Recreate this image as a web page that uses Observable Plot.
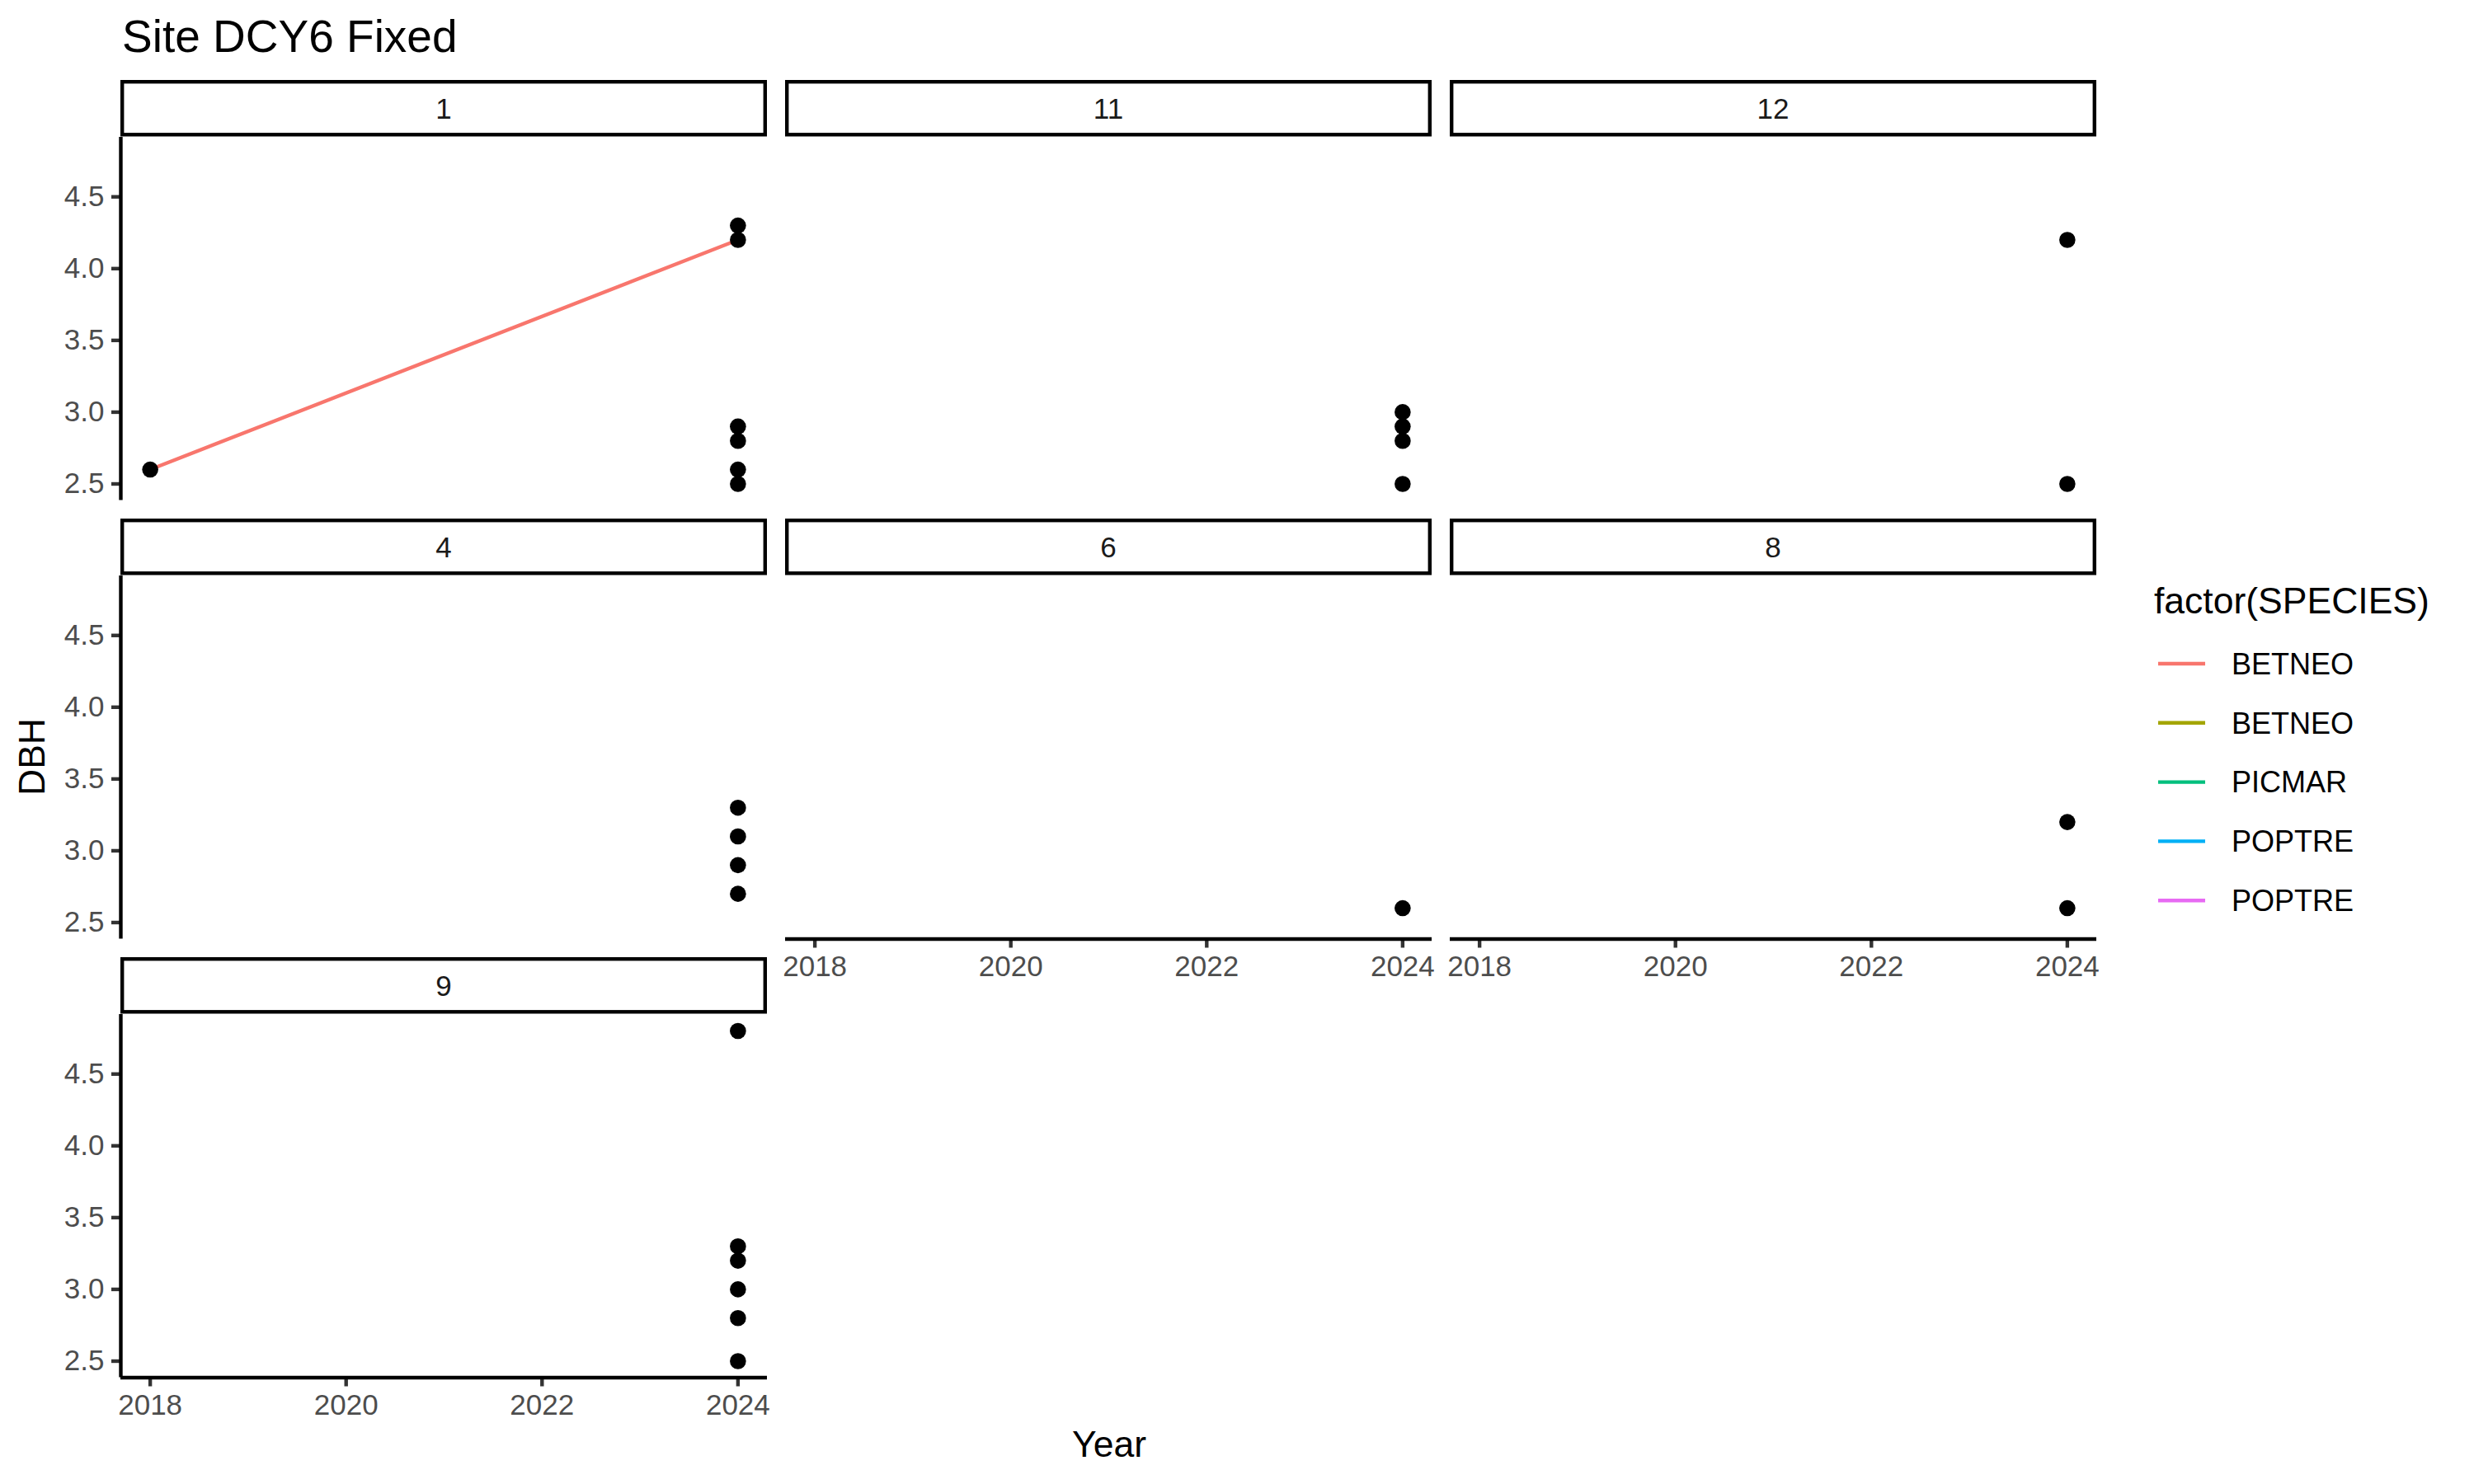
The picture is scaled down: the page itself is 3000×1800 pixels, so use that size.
<!DOCTYPE html>
<html>
<head>
<meta charset="utf-8">
<script src="https://cdn.jsdelivr.net/npm/d3@7"></script>
<script src="https://cdn.jsdelivr.net/npm/@observablehq/plot@0.6"></script>
<style>
  html, body { margin: 0; padding: 0; background: #ffffff; }
  #chart { position: relative; width: 3000px; height: 1800px; background: #ffffff; overflow: hidden;
           font-family: "Liberation Sans", Arial, sans-serif; }
  #chart svg.panel { position: absolute; max-width: none; }
  #overlay { position: absolute; left: 0; top: 0; pointer-events: none; }
</style>
</head>
<body>
<div id="chart"></div>
<script>
// ---------------- data ----------------
const chartTitle = "Site DCY6 Fixed";
const xTitle = "Year";
const yTitle = "DBH";
const legendTitle = "factor(SPECIES)";

const panels = ["1", "11", "12", "4", "6", "8", "9"];

const ptPanel = ["1","1","1","1","1","1","1",
                 "11","11","11","11",
                 "12","12",
                 "4","4","4","4",
                 "6",
                 "8","8",
                 "9","9","9","9","9","9"];
const ptYear  = [2018,2024,2024,2024,2024,2024,2024,
                 2024,2024,2024,2024,
                 2024,2024,
                 2024,2024,2024,2024,
                 2024,
                 2024,2024,
                 2024,2024,2024,2024,2024,2024];
const ptDBH   = [2.6,4.3,4.2,2.9,2.8,2.6,2.5,
                 3.0,2.9,2.8,2.5,
                 4.2,2.5,
                 3.3,3.1,2.9,2.7,
                 2.6,
                 3.2,2.6,
                 4.8,3.3,3.2,3.0,2.8,2.5];

const lnPanel   = ["1", "1"];
const lnYear    = [2018, 2024];
const lnDBH     = [2.6, 4.2];
const lnSpecies = ["BETNEO", "BETNEO"];

const speciesKeys   = ["BETNEO", "BETNEO ", "PICMAR", "POPTRE", "POPTRE "];
const speciesColors = ["#F8766D", "#A3A500", "#00BF7D", "#00B0F6", "#E76BF3"];

const xTicks = [2018, 2020, 2022, 2024];
const yTicks = [2.5, 3.0, 3.5, 4.0, 4.5];

// ---------------- tables ----------------
const points = ptPanel.map((p, i) => ({panel: p, year: ptYear[i], dbh: ptDBH[i]}));
const lines = lnPanel.map((p, i) => ({panel: p, year: lnYear[i], dbh: lnDBH[i], species: lnSpecies[i]}));

// ggplot-like 5% expansion
function expand(ext) { const d = (ext[1] - ext[0]) * 0.05; return [ext[0] - d, ext[1] + d]; }
const xDomain = expand(d3.extent(ptYear.concat(lnYear)));
const yDomain = expand(d3.extent(ptDBH.concat(lnDBH)));

// ---------------- layout ----------------
const FONT = "'Liberation Sans', Arial, sans-serif";
const colLeft = [146, 952, 1758];
const rowTop = [165.5, 697.5, 1229.5];
const panelW = 784, panelH = 440.5;
const stripH = 68.5;
const LW = 4.4;
const ML = 160, MR = 40, MT = 20, MB = 100;
const ncol = 3;

const chart = document.getElementById("chart");

panels.forEach((p, i) => {
  const r = Math.floor(i / ncol), c = i % ncol;
  const showY = c === 0;
  const showX = (i + ncol) >= panels.length; // nothing below
  const marks = [];
  if (showY) {
    marks.push(Plot.axisY(yTicks, {tickSize: 11, tickPadding: 9, fontSize: 35,
      tickFormat: d3.format(".1f"), label: null}));
    marks.push(Plot.ruleX([xDomain[0]], {stroke: "#000", strokeWidth: LW}));
  }
  if (showX) {
    marks.push(Plot.axisX(xTicks, {tickSize: 11, tickPadding: 9, fontSize: 35,
      tickFormat: d => String(d), label: null}));
    marks.push(Plot.ruleY([yDomain[0]], {stroke: "#000", strokeWidth: LW}));
  }
  marks.push(Plot.line(lines.filter(d => d.panel === p),
    {x: "year", y: "dbh", stroke: "species", strokeWidth: LW, z: "species"}));
  marks.push(Plot.dot(points.filter(d => d.panel === p),
    {x: "year", y: "dbh", r: 9.8, fill: "#000", stroke: "none"}));

  const svg = Plot.plot({
    width: ML + panelW + MR,
    height: MT + panelH + MB,
    marginLeft: ML, marginRight: MR, marginTop: MT, marginBottom: MB,
    style: {background: "none", fontFamily: FONT, overflow: "visible"},
    x: {domain: xDomain, axis: showX ? undefined : null},
    y: {domain: yDomain, axis: showY ? undefined : null},
    color: {domain: speciesKeys, range: speciesColors},
    marks
  });
  svg.classList.add("panel");
  svg.style.left = (colLeft[c] - ML) + "px";
  svg.style.top = (rowTop[r] - MT) + "px";
  const s = d3.select(svg);
  s.selectAll('g[aria-label$="-axis tick"]').attr("stroke", "#333333").attr("stroke-width", LW);
  s.selectAll('g[aria-label$="-axis tick label"]').attr("fill", "#4d4d4d");
  chart.appendChild(svg);
});

// ---------------- overlay: title, strips, axis titles, legend ----------------
const ov = d3.select(chart).append("svg").attr("id", "overlay")
  .attr("width", 3000).attr("height", 1800)
  .style("font-family", FONT);

ov.append("text").attr("x", 148).attr("y", 63).attr("font-size", 55).attr("fill", "#000").text(chartTitle);

panels.forEach((p, i) => {
  const r = Math.floor(i / ncol), c = i % ncol;
  const x0 = colLeft[c], y0 = rowTop[r] - stripH;
  ov.append("rect").attr("x", x0 + LW / 2).attr("y", y0 + LW / 2)
    .attr("width", panelW - LW).attr("height", stripH - LW)
    .attr("fill", "#fff").attr("stroke", "#000").attr("stroke-width", LW);
  ov.append("text").attr("x", x0 + panelW / 2).attr("y", y0 + stripH / 2 + 12.5)
    .attr("text-anchor", "middle").attr("font-size", 35).attr("fill", "#1a1a1a").text(p);
});

ov.append("text").attr("x", 1345).attr("y", 1767).attr("text-anchor", "middle")
  .attr("font-size", 44.5).attr("fill", "#000").text(xTitle);
ov.append("text").attr("transform", "translate(54,918) rotate(-90)").attr("text-anchor", "middle")
  .attr("font-size", 44.5).attr("fill", "#000").text(yTitle);

ov.append("text").attr("x", 2612).attr("y", 744).attr("font-size", 44.5).attr("fill", "#000").text(legendTitle);
speciesKeys.forEach((k, i) => {
  const y = 805 + i * 71.8;
  ov.append("line").attr("x1", 2617).attr("x2", 2674).attr("y1", y).attr("y2", y)
    .attr("stroke", speciesColors[i]).attr("stroke-width", LW);
  ov.append("text").attr("x", 2706).attr("y", y + 12.8).attr("font-size", 36).attr("fill", "#000").text(k.trim());
});
</script>
</body>
</html>
